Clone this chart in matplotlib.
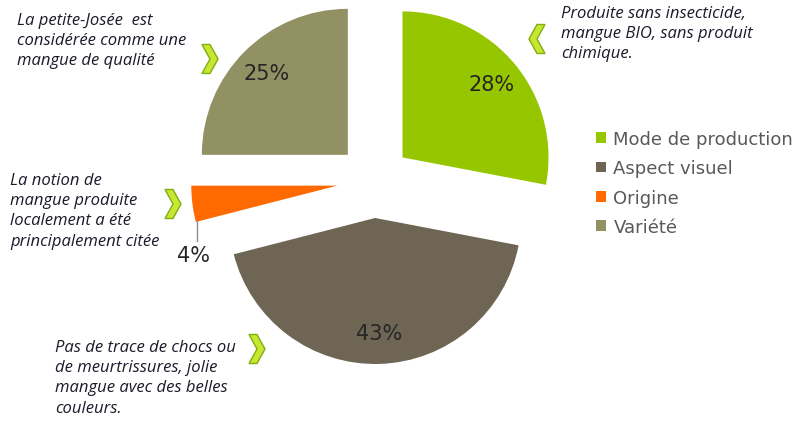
import matplotlib.pyplot as plt
from matplotlib.patches import Polygon

# Data
categories = ['Mode de production', 'Aspect visuel', 'Origine', 'Variété']
values = [28, 43, 4, 25]
colors = ['#95C600', '#6E6555', '#FF6A00', '#929163']
notes = [
    "Produite sans insecticide,\nmangue BIO, sans produit\nchimique.",
    "Pas de trace de chocs ou\nde meurtrissures, jolie\nmangue avec des belles\ncouleurs.",
    "La notion de\nmangue produite\nlocalement a été\nprincipalement citée",
    "La petite-Josée  est\nconsidérée comme une\nmangue de qualité",
]

W, H = 802, 427


def py(y):
    # pixel row (from top) -> data y
    return H - y


fig = plt.figure(figsize=(W / 100, H / 100), dpi=100)
ax = fig.add_axes([0, 0, 1, 1])

# explode is in data units here (radius is 146 px)
wedges, texts, autotexts = ax.pie(
    values, colors=colors, startangle=90, counterclock=False,
    explode=[37] * len(values), radius=146, center=(374, py(182)),
    autopct='%d%%', pctdistance=0.79,
    textprops=dict(fontsize=15, color='#262626', family='DejaVu Sans'),
    wedgeprops=dict(linewidth=0))

ax.set_xlim(0, W)
ax.set_ylim(0, H)
ax.set_aspect('equal')
ax.axis('off')

# small slice: label outside with a leader line
autotexts[2].set_position((194, py(256)))
ax.plot([197, 197], [py(222), py(242)], color='#8C8C8C', lw=1)

# annotation texts
note_font = dict(fontsize=12, style='italic', family='Open Sans', color='#1A1A2A',
                 va='top', ha='left', linespacing=1.35)
ax.text(561, py(6), notes[0], **note_font)
ax.text(55, py(340), notes[1], **note_font)
ax.text(10, py(173), notes[2], **note_font)
ax.text(17, py(13), notes[3], **note_font)


def chevron(cx, cy, right=True, w=16, h=29):
    s = 1 if right else -1
    pts = [(-w / 2, h / 2), (w * 0.0, h / 2), (w / 2, 0), (0, -h / 2),
           (-w / 2, -h / 2), (0, 0)]
    pts = [(cx + s * x, py(cy) + y) for x, y in pts]
    ax.add_patch(Polygon(pts, closed=True, facecolor='#C8E632',
                         edgecolor='#7FAF10', lw=1))


chevron(210, 60, True)
chevron(537, 40, False)
chevron(173, 205, True)
chevron(257, 350, True)

ax.legend(wedges, categories, loc='upper left', bbox_to_anchor=(580 / W, 1 - 115 / H),
          frameon=False, labelspacing=0.62, handlelength=0.55,
          handleheight=0.55, handletextpad=0.4, labelcolor='#595959',
          prop=dict(family='DejaVu Sans', size=13))

fig.savefig('out.png', dpi=100)
